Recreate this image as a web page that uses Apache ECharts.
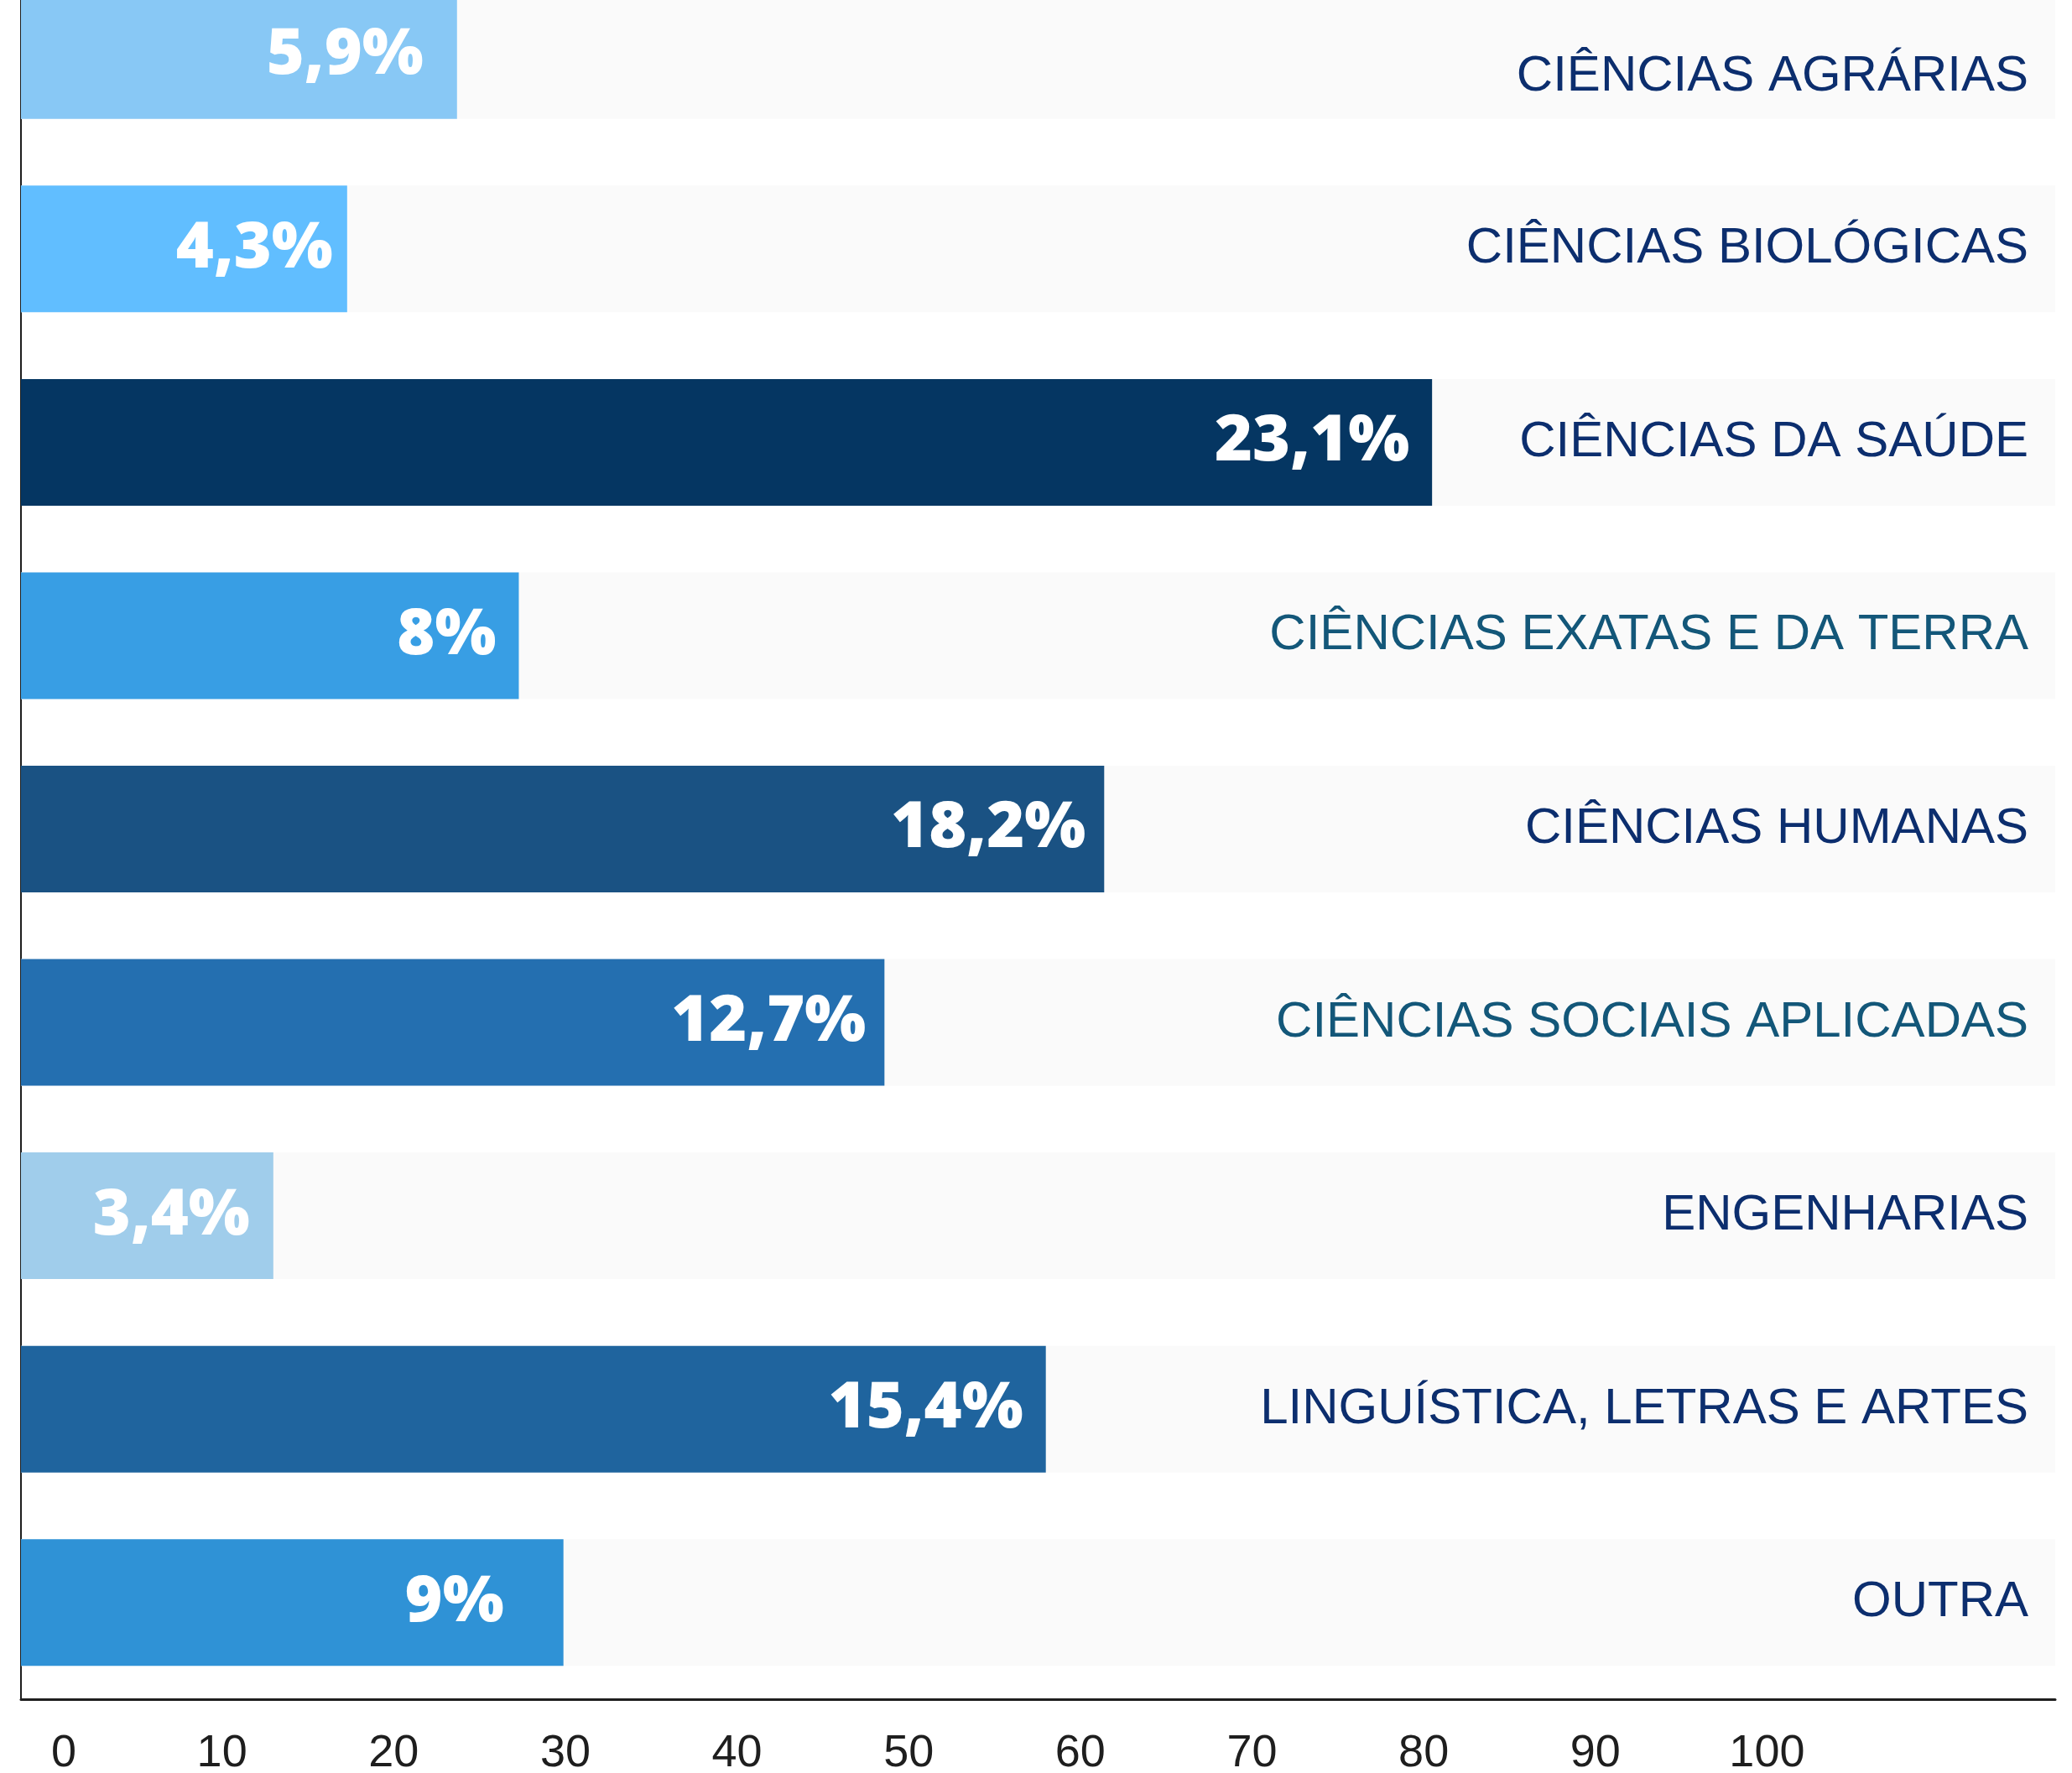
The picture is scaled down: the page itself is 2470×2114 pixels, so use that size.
<!DOCTYPE html>
<html>
<head>
<meta charset="utf-8">
<script src="https://cdn.jsdelivr.net/npm/echarts@6/dist/echarts.min.js"></script>
<style>
  html, body { margin: 0; padding: 0; background: #ffffff; overflow: hidden; }
  body { width: 2470px; height: 2114px; position: relative; }
  /* chart is a bit taller than the page and shifted up, so the first row is cut at the top like in the source */
  #chart { position: absolute; left: 0; top: -49px; width: 2470px; height: 2163px; }
</style>
</head>
<body>
<div id="chart"></div>
<script>
// areas of knowledge, top to bottom
const categories = [
  "CIÊNCIAS AGRÁRIAS",
  "CIÊNCIAS BIOLÓGICAS",
  "CIÊNCIAS DA SAÚDE",
  "CIÊNCIAS EXATAS E DA TERRA",
  "CIÊNCIAS HUMANAS",
  "CIÊNCIAS SOCIAIS APLICADAS",
  "ENGENHARIAS",
  "LINGUÍSTICA, LETRAS E ARTES",
  "OUTRA",
];
// printed share (%) on each bar
const shares = [5.9, 4.3, 23.1, 8, 18.2, 12.7, 3.4, 15.4, 9];
// bar length read against the bottom axis
const barLengths = [25.4, 19.0, 82.2, 29.0, 63.1, 50.3, 14.7, 59.7, 31.6];
// bottom axis labels
const tickValues = [0, 10, 20, 30, 40, 50, 60, 70, 80, 90, 100];

// styling
const barColors = [
  "#88c8f5", "#61beff", "#053662", "#389ee4", "#1a5283",
  "#246fb0", "#a0cdeb", "#1f649e", "#2f92d6",
];
const labelGaps = [40, 17, 27, 27, 22, 22, 28, 27, 71]; // px from bar end to value text
const navy = "#0c2e6e";
const teal = "#135779";

const chart = echarts.init(document.getElementById("chart"));

const option = {
  backgroundColor: "#ffffff",
  animation: false,
  grid: {
    left: 25,
    right: 20,
    top: 0,
    bottom: 88,
    outerBoundsMode: "none",
  },
  xAxis: {
    type: "value",
    min: 0,
    max: 118.5,
    axisLine: { show: true, lineStyle: { color: "#1e1e1e", width: 3 } },
    axisTick: { show: false },
    splitLine: { show: false },
    axisLabel: {
      customValues: tickValues,
      margin: 38,
      color: "#1e1e1e",
      fontFamily: "Liberation Sans",
      fontSize: 54,
      lineHeight: 54,
      align: "center",
      padding: [0, 0, 0, 70],
      // the "0" is printed a bit further right in the source
      formatter: (value) => (value === 0 ? "{zero|0}" : String(value)),
      rich: {
        zero: { padding: [0, 0, 0, 32] },
      },
    },
  },
  yAxis: [
    {
      type: "category",
      data: categories,
      inverse: true,
      position: "left",
      axisLine: { show: true, lineStyle: { color: "#1e1e1e", width: 2 } },
      axisTick: { show: false },
      axisLabel: { show: false },
      splitLine: { show: false },
    },
    {
      type: "category",
      data: categories,
      inverse: true,
      position: "right",
      z: 10,
      axisLine: { show: false },
      axisTick: { show: false },
      splitLine: { show: false },
      axisLabel: {
        inside: true,
        margin: 32,
        fontFamily: "Liberation Sans",
        fontSize: 60,
        color: (value, index) => (index === 3 || index === 5 ? teal : navy),
        // first row sits a little lower than its (cut) bar
        formatter: (value, index) => (index === 0 ? `{first|${value}}` : value),
        rich: {
          first: { padding: [50, 0, 0, 0] },
        },
      },
    },
  ],
  series: [
    {
      type: "bar",
      yAxisIndex: 0,
      barWidth: 151,
      showBackground: true,
      backgroundStyle: { color: "#fafafa" },
      data: barLengths.map((v, i) => ({
        value: v,
        itemStyle: { color: barColors[i] },
        label: { distance: labelGaps[i] },
      })),
      label: {
        show: true,
        position: "insideRight",
        color: "#ffffff",
        fontFamily: "Open Sans",
        fontWeight: 800,
        fontSize: 77,
        formatter: (p) => `${String(shares[p.dataIndex]).replace(".", ",")}%`,
      },
    },
  ],
};

chart.setOption(option);
</script>
</body>
</html>
